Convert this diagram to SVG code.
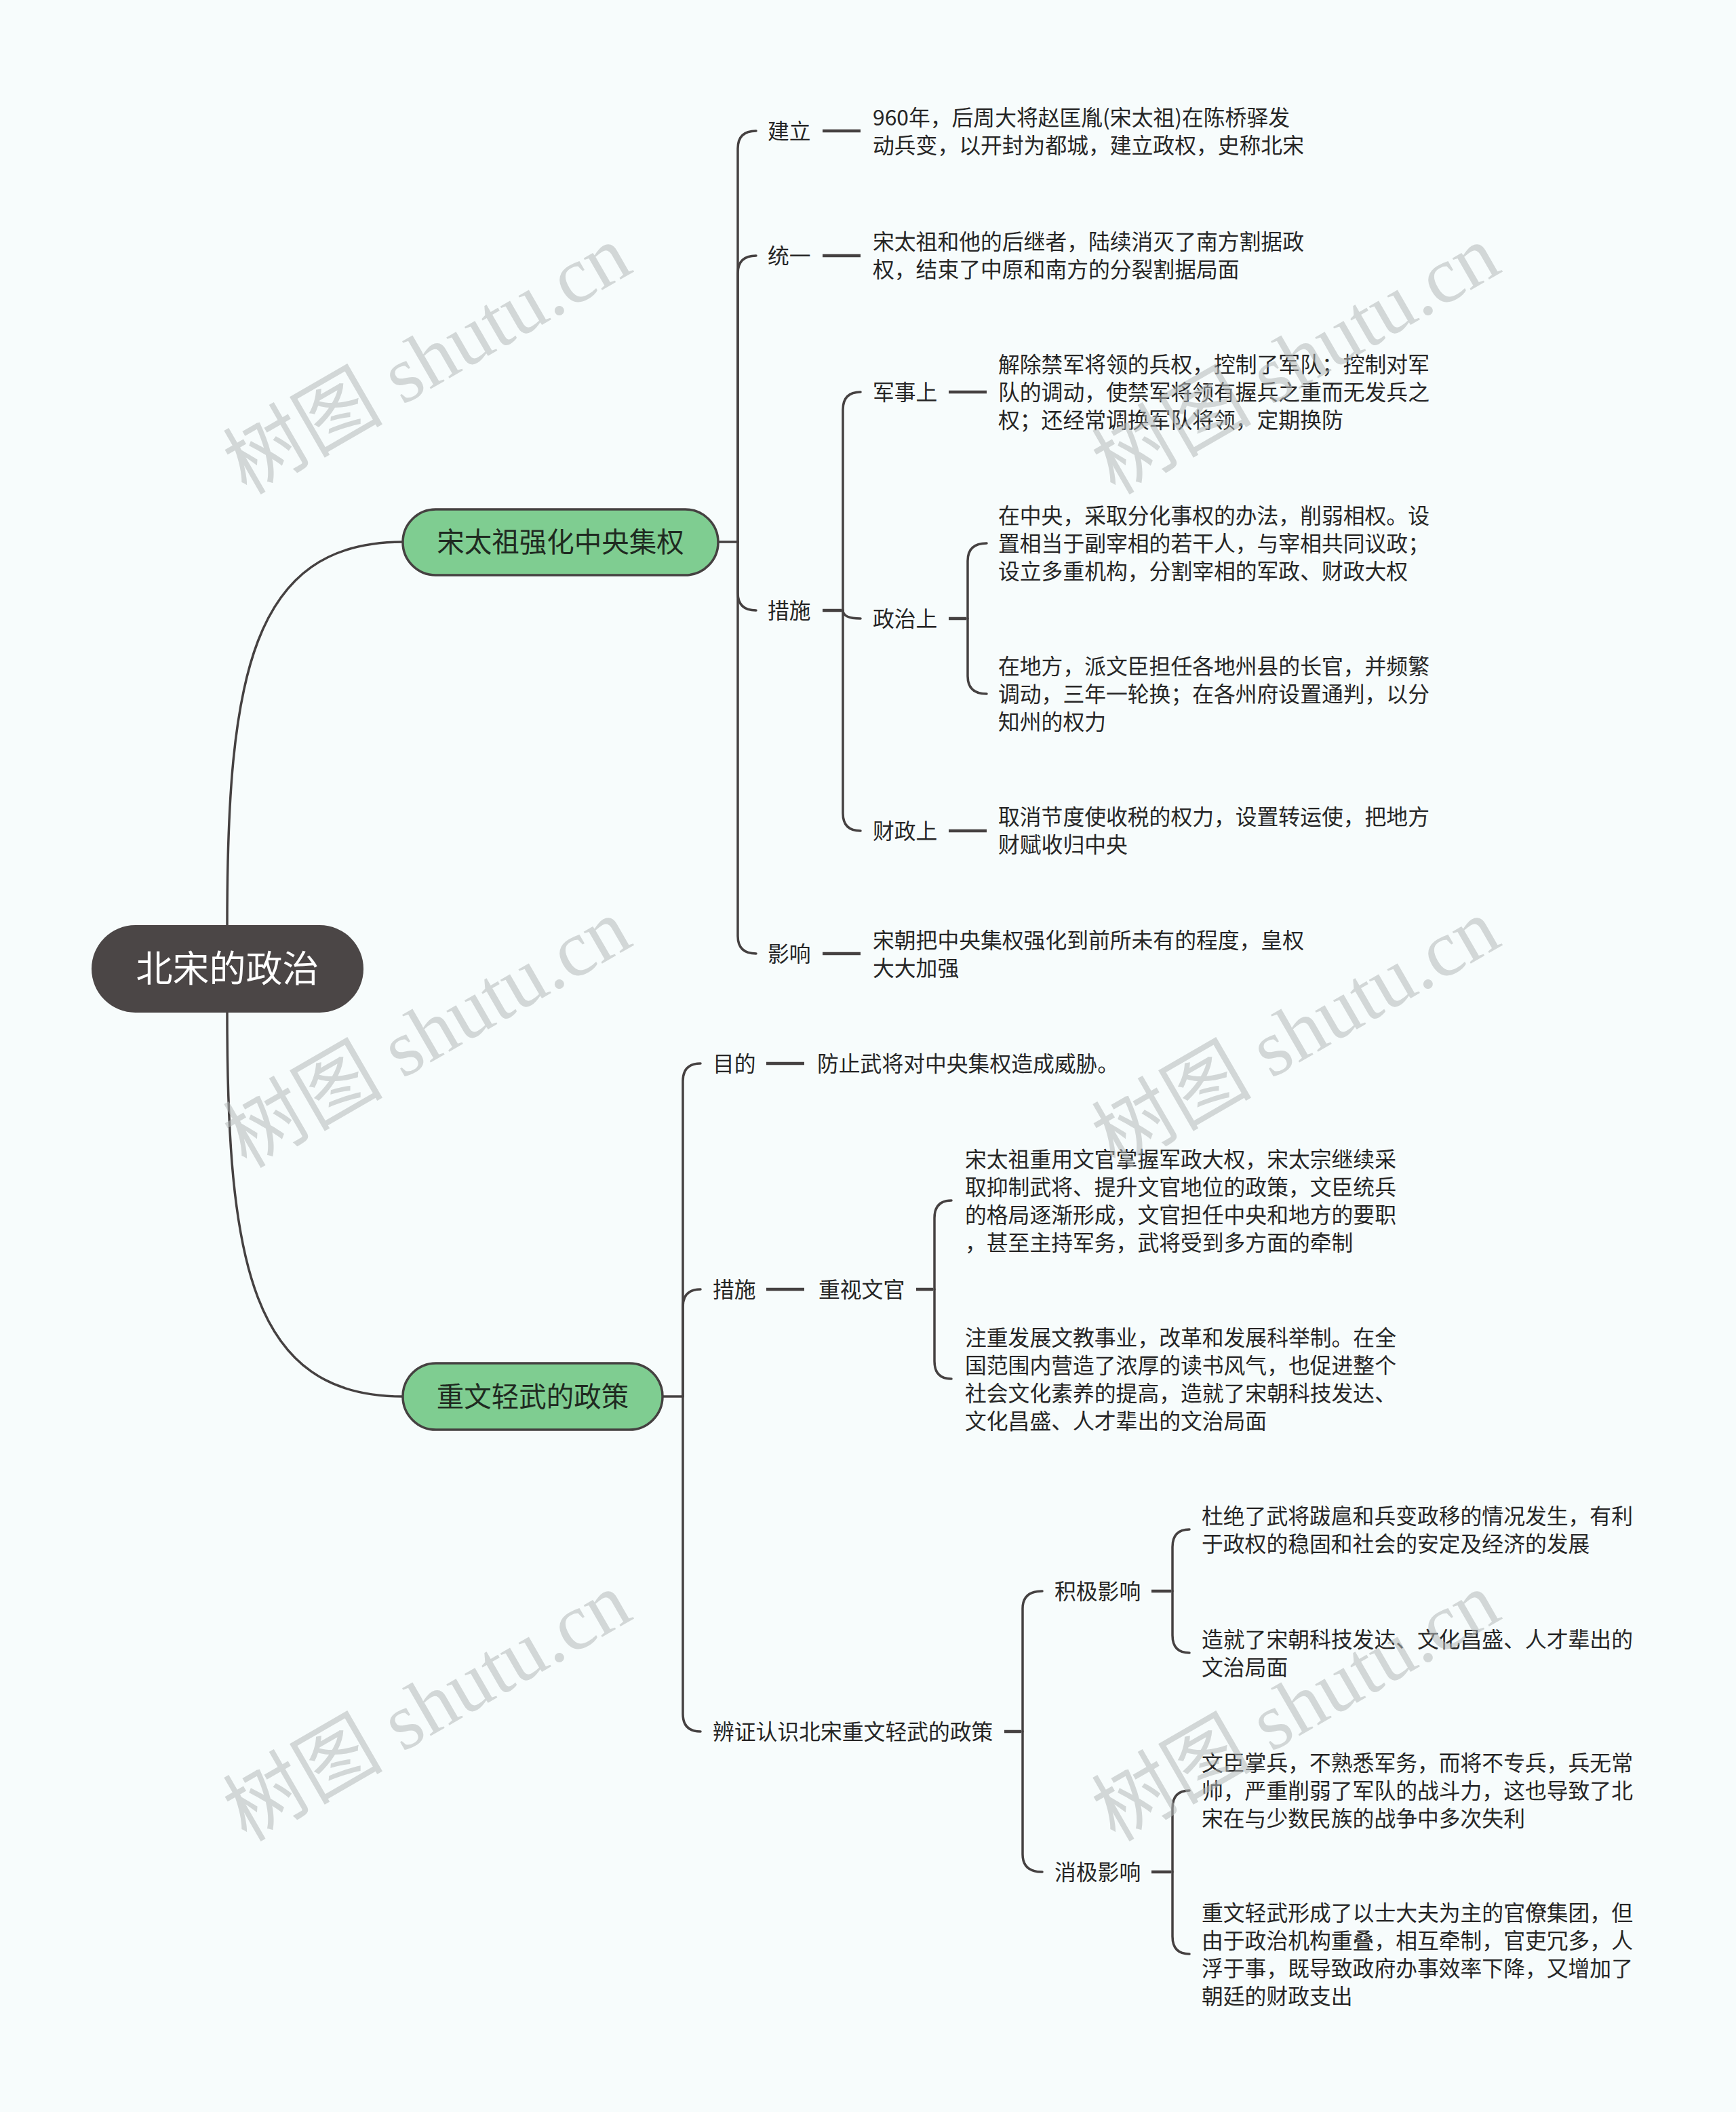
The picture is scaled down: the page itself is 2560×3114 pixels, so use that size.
<svg xmlns="http://www.w3.org/2000/svg" width="2560" height="3114" viewBox="0 0 2560 3114">
<style>
.t{font-family:"Noto Sans CJK SC","Liberation Sans",sans-serif;font-size:31.8px;fill:#262626}
.c{fill:none;stroke:#454141;stroke-width:3.5;stroke-linecap:round}
.d{fill:none;stroke:#454141;stroke-width:4.5}
.main{fill:#7fcd91;stroke:#454141;stroke-width:3.5}
.mt{font-family:"Noto Sans CJK SC","Liberation Sans",sans-serif;font-size:40.5px;fill:#1f2a21;text-anchor:middle}
.wm{font-family:"Liberation Serif","Noto Sans CJK SC",serif;font-size:118px;fill:#b4b9b9;opacity:0.55;text-anchor:middle}
</style>
<rect x="0" y="0" width="2560" height="3114" fill="#f7fcfc"/>

<g id="connectors">
<path class="c" d="M 335 1364 C 335 1000 370 799 594 799"/>
<path class="c" d="M 335 1493 C 335 1860 370 2059 594 2059"/>
<path class="c" d="M 1059 799 H 1088"/>
<path class="c" d="M 1088 799 V 219 Q 1088 193 1115 193"/>
<path class="c" d="M 1088 799 V 403 Q 1088 377 1115 377"/>
<path class="c" d="M 1088 799 V 874 Q 1088 900 1115 900"/>
<path class="c" d="M 1088 799 V 1380 Q 1088 1406 1115 1406"/>
<path class="d" d="M 1213 193 H 1269"/>
<path class="d" d="M 1213 377 H 1269"/>
<path class="d" d="M 1213 900 H 1241"/>
<path class="d" d="M 1213 1406 H 1269"/>
<path class="c" d="M 1243 900 V 604 Q 1243 578 1269 578"/>
<path class="c" d="M 1243 900 Q 1243 912 1269 912"/>
<path class="c" d="M 1243 900 V 1199 Q 1243 1225 1269 1225"/>
<path class="d" d="M 1399 578 H 1455"/>
<path class="d" d="M 1399 912 H 1425"/>
<path class="d" d="M 1399 1225 H 1455"/>
<path class="c" d="M 1427 912 V 827 Q 1427 801 1455 801"/>
<path class="c" d="M 1427 912 V 997 Q 1427 1023 1455 1023"/>
<path class="c" d="M 977 2059 H 1007"/>
<path class="c" d="M 1007 2059 V 1594 Q 1007 1568 1033 1568"/>
<path class="c" d="M 1007 2059 V 1927 Q 1007 1901 1033 1901"/>
<path class="c" d="M 1007 2059 V 2527 Q 1007 2553 1033 2553"/>
<path class="d" d="M 1130 1568 H 1186"/>
<path class="d" d="M 1130 1901 H 1186"/>
<path class="d" d="M 1351 1901 H 1376"/>
<path class="d" d="M 1481 2553 H 1506"/>
<path class="c" d="M 1378 1901 V 1796 Q 1378 1770 1403 1770"/>
<path class="c" d="M 1378 1901 V 2007 Q 1378 2033 1403 2033"/>
<path class="c" d="M 1508 2553 V 2372 Q 1508 2346 1537 2346"/>
<path class="c" d="M 1508 2553 V 2734 Q 1508 2760 1537 2760"/>
<path class="d" d="M 1698 2346 H 1727"/>
<path class="d" d="M 1698 2760 H 1727"/>
<path class="c" d="M 1729 2346 V 2281 Q 1729 2255 1754 2255"/>
<path class="c" d="M 1729 2346 V 2411 Q 1729 2437 1754 2437"/>
<path class="c" d="M 1729 2760 V 2666 Q 1729 2640 1754 2640"/>
<path class="c" d="M 1729 2760 V 2855 Q 1729 2881 1754 2881"/>
</g>

<g id="root">
<rect x="135" y="1364" width="401" height="129" rx="64.5" fill="#4b4646"/>
<text x="335.5" y="1448" font-family="Noto Sans CJK SC, Liberation Sans, sans-serif" font-size="54" fill="#ffffff" text-anchor="middle">北宋的政治</text>
</g>

<g id="n1">
<rect class="main" x="594" y="751" width="465" height="97" rx="48.5"/>
<text class="mt" x="826.5" y="814">宋太祖强化中央集权</text>
</g>
<g id="n1-jianli"><text class="t" x="1132" y="204.5">建立</text></g>
<g id="n1-jianli-t"><text class="t" x="1287" y="184.5">960年，后周大将赵匡胤(宋太祖)在陈桥驿发</text><text class="t" x="1287" y="225.5">动兵变，以开封为都城，建立政权，史称北宋</text></g>
<g id="n1-tongyi"><text class="t" x="1132" y="388.5">统一</text></g>
<g id="n1-tongyi-t"><text class="t" x="1287" y="367.5">宋太祖和他的后继者，陆续消灭了南方割据政</text><text class="t" x="1287" y="408.5">权，结束了中原和南方的分裂割据局面</text></g>
<g id="n1-cuoshi"><text class="t" x="1132" y="911.5">措施</text></g>
<g id="n1-junshi"><text class="t" x="1287" y="589.5">军事上</text></g>
<g id="n1-junshi-t"><text class="t" x="1472" y="548.5">解除禁军将领的兵权，控制了军队；控制对军</text><text class="t" x="1472" y="589.5">队的调动，使禁军将领有握兵之重而无发兵之</text><text class="t" x="1472" y="630.5">权；还经常调换军队将领，定期换防</text></g>
<g id="n1-zhengzhi"><text class="t" x="1287" y="923.5">政治上</text></g>
<g id="n1-zhengzhi-t1"><text class="t" x="1472" y="771.5">在中央，采取分化事权的办法，削弱相权。设</text><text class="t" x="1472" y="812.5">置相当于副宰相的若干人，与宰相共同议政；</text><text class="t" x="1472" y="853.5">设立多重机构，分割宰相的军政、财政大权</text></g>
<g id="n1-zhengzhi-t2"><text class="t" x="1472" y="993.5">在地方，派文臣担任各地州县的长官，并频繁</text><text class="t" x="1472" y="1034.5">调动，三年一轮换；在各州府设置通判，以分</text><text class="t" x="1472" y="1075.5">知州的权力</text></g>
<g id="n1-caizheng"><text class="t" x="1287" y="1236.5">财政上</text></g>
<g id="n1-caizheng-t"><text class="t" x="1472" y="1215.5">取消节度使收税的权力，设置转运使，把地方</text><text class="t" x="1472" y="1256.5">财赋收归中央</text></g>
<g id="n1-yingxiang"><text class="t" x="1132" y="1417.5">影响</text></g>
<g id="n1-yingxiang-t"><text class="t" x="1287" y="1397.5">宋朝把中央集权强化到前所未有的程度，皇权</text><text class="t" x="1287" y="1438.5">大大加强</text></g>

<g id="n2">
<rect class="main" x="594" y="2010" width="383" height="98" rx="49"/>
<text class="mt" x="785.5" y="2074">重文轻武的政策</text>
</g>
<g id="n2-mudi"><text class="t" x="1051" y="1579.5">目的</text></g>
<g id="n2-mudi-t"><text class="t" x="1205" y="1579.5">防止武将对中央集权造成威胁。</text></g>
<g id="n2-cuoshi"><text class="t" x="1051" y="1912.5">措施</text></g>
<g id="n2-zhongshi"><text class="t" x="1207" y="1912.5">重视文官</text></g>
<g id="n2-zhongshi-t1"><text class="t" x="1423" y="1720.5">宋太祖重用文官掌握军政大权，宋太宗继续采</text><text class="t" x="1423" y="1761.5">取抑制武将、提升文官地位的政策，文臣统兵</text><text class="t" x="1423" y="1802.5">的格局逐渐形成，文官担任中央和地方的要职</text><text class="t" x="1423" y="1843.5">，甚至主持军务，武将受到多方面的牵制</text></g>
<g id="n2-zhongshi-t2"><text class="t" x="1423" y="1983.5">注重发展文教事业，改革和发展科举制。在全</text><text class="t" x="1423" y="2024.5">国范围内营造了浓厚的读书风气，也促进整个</text><text class="t" x="1423" y="2065.5">社会文化素养的提高，造就了宋朝科技发达、</text><text class="t" x="1423" y="2106.5">文化昌盛、人才辈出的文治局面</text></g>
<g id="n2-bianzheng"><text class="t" x="1051" y="2564.5">辨证认识北宋重文轻武的政策</text></g>
<g id="n2-jiji"><text class="t" x="1555" y="2357.5">积极影响</text></g>
<g id="n2-jiji-t1"><text class="t" x="1772" y="2246.5">杜绝了武将跋扈和兵变政移的情况发生，有利</text><text class="t" x="1772" y="2287.5">于政权的稳固和社会的安定及经济的发展</text></g>
<g id="n2-jiji-t2"><text class="t" x="1772" y="2428.5">造就了宋朝科技发达、文化昌盛、人才辈出的</text><text class="t" x="1772" y="2469.5">文治局面</text></g>
<g id="n2-xiaoji"><text class="t" x="1555" y="2771.5">消极影响</text></g>
<g id="n2-xiaoji-t1"><text class="t" x="1772" y="2610.5">文臣掌兵，不熟悉军务，而将不专兵，兵无常</text><text class="t" x="1772" y="2651.5">帅，严重削弱了军队的战斗力，这也导致了北</text><text class="t" x="1772" y="2692.5">宋在与少数民族的战争中多次失利</text></g>
<g id="n2-xiaoji-t2"><text class="t" x="1772" y="2831.5">重文轻武形成了以士大夫为主的官僚集团，但</text><text class="t" x="1772" y="2872.5">由于政治机构重叠，相互牵制，官吏冗多，人</text><text class="t" x="1772" y="2913.5">浮于事，既导致政府办事效率下降，又增加了</text><text class="t" x="1772" y="2954.5">朝廷的财政支出</text></g>

<g id="watermarks">
<text class="wm" transform="translate(650 565) rotate(-30)">树图 shutu.cn</text>
<text class="wm" transform="translate(1931 565) rotate(-30)">树图 shutu.cn</text>
<text class="wm" transform="translate(650 1558) rotate(-30)">树图 shutu.cn</text>
<text class="wm" transform="translate(1931 1558) rotate(-30)">树图 shutu.cn</text>
<text class="wm" transform="translate(650 2551) rotate(-30)">树图 shutu.cn</text>
<text class="wm" transform="translate(1931 2551) rotate(-30)">树图 shutu.cn</text>
</g>
</svg>
